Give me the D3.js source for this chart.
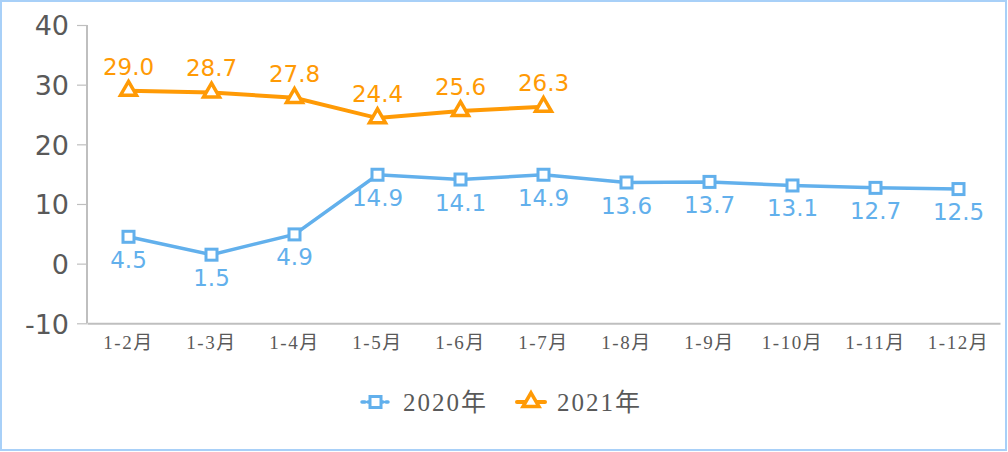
<!DOCTYPE html>
<html><head><meta charset="utf-8">
<script src="https://cdn.jsdelivr.net/npm/d3@7/dist/d3.min.js"></script>
<style>body{margin:0;background:#fff}svg{display:block}</style>
</head><body>
<svg id="c" width="1008" height="452"></svg>
<script>
const categories = ["1-2月","1-3月","1-4月","1-5月","1-6月","1-7月","1-8月","1-9月","1-10月","1-11月","1-12月"];
const values2020 = [4.5, 1.5, 4.9, 14.9, 14.1, 14.9, 13.6, 13.7, 13.1, 12.7, 12.5];
const values2021 = [29.0, 28.7, 27.8, 24.4, 25.6, 26.3];
const yTicks = [-10, 0, 10, 20, 30, 40];
const yTickLabels = ["-10", "0", "10", "20", "30", "40"];
const seriesNames = ["2020年", "2021年"];

const blue = "#62b0ec", orange = "#ff9a05";
const svg = d3.select("#c");
svg.append("rect").attr("x",1).attr("y",1).attr("width",1005).attr("height",449)
  .attr("fill","#fff").attr("stroke","#a8d0f8").attr("stroke-width",2);

const x = d3.scaleBand().domain(categories).range([87, 1000]);
const y = d3.scaleLinear().domain([-10, 40]).range([323.3, 25]);

// y axis
const ya = svg.append("g").attr("transform","translate(87,0)")
  .call(d3.axisLeft(y).tickValues(yTicks).tickSize(10).tickPadding(8)
    .tickFormat((d,i)=>yTickLabels[i]));
ya.select(".domain").attr("stroke","#bfbfbf").attr("stroke-width",2).attr("d","M0,25V323.3");
ya.selectAll(".tick line").attr("stroke","#bfbfbf").attr("stroke-width",1.2);
ya.selectAll(".tick text").attr("fill","#595959").style("font-family","DejaVu Sans").style("font-size","27px").attr("dy","0.36em");

// x axis
const xa = svg.append("g").attr("transform","translate(0,323.3)")
  .call(d3.axisBottom(x).tickSize(0).tickPadding(12));
xa.select(".domain").attr("stroke","#bfbfbf").attr("stroke-width",2);
xa.selectAll(".tick text").attr("fill","#595959")
  .style("font-family","'Liberation Serif','Noto Sans CJK SC'").style("font-size","19px")
  .style("letter-spacing","1.5px").attr("dy","0.72em");

const cx = d => x(d) + x.bandwidth()/2;
const line = d3.line().x((d,i)=>cx(categories[i])).y(d=>y(d));

// 2020
svg.append("path").datum(values2020).attr("d",line).attr("fill","none")
  .attr("stroke",blue).attr("stroke-width",3.5);
svg.selectAll(".sq").data(values2020).enter().append("rect")
  .attr("x",(d,i)=>cx(categories[i])-5.5).attr("y",d=>y(d)-5.5)
  .attr("width",11).attr("height",11).attr("fill","#fff").attr("stroke",blue).attr("stroke-width",3);
svg.selectAll(".l20").data(values2020).enter().append("text")
  .attr("x",(d,i)=>cx(categories[i])).attr("y",d=>y(d)+31)
  .attr("text-anchor","middle").attr("fill",blue)
  .style("font-family","DejaVu Sans").style("font-size","23px").text(d=>d.toFixed(1));

// 2021
const tri = d3.symbol().type(d3.symbolTriangle).size(110);
svg.append("path").datum(values2021).attr("d",line).attr("fill","none")
  .attr("stroke",orange).attr("stroke-width",4);
svg.selectAll(".tr").data(values2021).enter().append("path")
  .attr("d",tri).attr("transform",(d,i)=>`translate(${cx(categories[i])},${y(d)})`)
  .attr("fill","#fff").attr("stroke",orange).attr("stroke-width",3.5);
svg.selectAll(".l21").data(values2021).enter().append("text")
  .attr("x",(d,i)=>cx(categories[i])).attr("y",d=>y(d)-16)
  .attr("text-anchor","middle").attr("fill",orange)
  .style("font-family","DejaVu Sans").style("font-size","23px").text(d=>d.toFixed(1));

// legend
const lg = svg.append("g");
const ly = 402;
lg.append("line").attr("x1",362).attr("x2",388).attr("y1",ly).attr("y2",ly)
  .attr("stroke",blue).attr("stroke-width",3.5).attr("stroke-dasharray","3,3").attr("stroke-linecap","round");
lg.append("rect").attr("x",370).attr("y",ly-5.5).attr("width",11).attr("height",11)
  .attr("fill","#fff").attr("stroke",blue).attr("stroke-width",3);
lg.append("text").attr("x",403).attr("y",ly+9).attr("fill","#595959")
  .style("font-family","'Liberation Serif','Noto Sans CJK SC'").style("font-size","25px")
  .style("letter-spacing","2px").text(seriesNames[0]);
lg.append("line").attr("x1",517).attr("x2",545).attr("y1",ly).attr("y2",ly)
  .attr("stroke",orange).attr("stroke-width",4).attr("stroke-linecap","round");
lg.append("path").attr("d",tri).attr("transform",`translate(531,${ly})`)
  .attr("fill","#fff").attr("stroke",orange).attr("stroke-width",3.5);
lg.append("text").attr("x",557).attr("y",ly+9).attr("fill","#595959")
  .style("font-family","'Liberation Serif','Noto Sans CJK SC'").style("font-size","25px")
  .style("letter-spacing","2px").text(seriesNames[1]);
</script>
</body></html>
